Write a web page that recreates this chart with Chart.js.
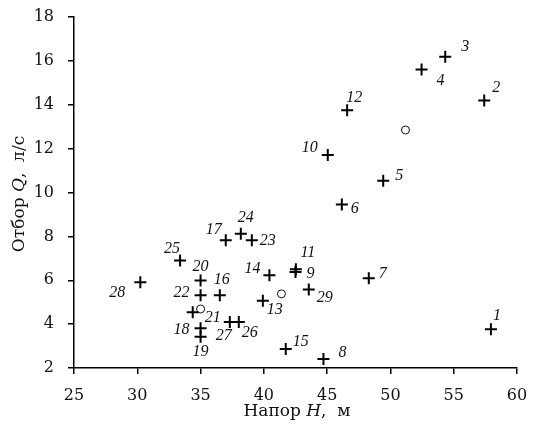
<!DOCTYPE html>
<html>
<head>
<meta charset="utf-8">
<script src="https://cdn.jsdelivr.net/npm/chart.js@4"></script>
<style>
  html, body { margin: 0; padding: 0; background: #fff; }
  #wrap { width: 533px; height: 426px; }
</style>
</head>
<body>
<div id="wrap"><canvas id="chart" width="533" height="426"></canvas></div>
<script>
// Номера скважин, напор H (м) и отбор Q (л/с)
const wellNumbers = ['1','2','3','4','5','6','7','8','9','10','11','12','13','14','15','16','17','18','19','20','21','22','23','24','25','26','27','28','29'];
const headH = [57.94, 57.41, 54.33, 52.46, 49.43, 46.16, 48.29, 44.71, 42.5, 45.05, 42.53, 46.58, 39.92, 40.44, 41.73, 36.52, 36.99, 35.0, 35.0, 35.0, 34.38, 35.0, 39.05, 38.18, 33.38, 38.02, 37.31, 30.24, 43.55];
const flowQ = [3.77, 14.19, 16.19, 15.61, 10.54, 9.45, 6.09, 2.41, 6.38, 11.71, 6.50, 13.75, 5.06, 6.23, 2.87, 5.32, 7.82, 3.81, 3.43, 5.99, 4.54, 5.32, 7.82, 8.12, 6.90, 4.10, 4.10, 5.91, 5.58];

// Кружки (средние значения групп)
const circleH = [51.19, 41.39, 35.0];
const circleQ = [12.85, 5.38, 4.69];

// Подписи осей
const xTicks = [25, 30, 35, 40, 45, 50, 55, 60];
const yTicks = [2, 4, 6, 8, 10, 12, 14, 16, 18];

// смещение подписей номеров относительно точки, px
const labelOffsets = [
    [6, -13], [12, -13], [20, -10], [19, 11], [16, -5], [13, 4], [14, -4], [19, -6], [15, 2], [-18, -7],
    [12, -16], [7, -12], [12, 9], [-17, -6], [15, -7], [2, -15], [-12, -11], [-19, 2], [0, 15], [0, -14],
    [20, 6], [-19, -2], [16, 0], [5, -16], [-8, -12], [11, 11], [-6, 14], [-23, 11], [16, 8]
];

const serif = '"Liberation Serif", "DejaVu Serif", serif';
const wideSerif = '"DejaVu Serif", "Liberation Serif", serif';

const crossData = headH.map((h, i) => ({ x: h, y: flowQ[i] }));
const circleData = circleH.map((h, i) => ({ x: h, y: circleQ[i] }));

const numberLabels = {
    id: 'numberLabels',
    afterDatasetsDraw(chart) {
        const ctx = chart.ctx;
        const meta = chart.getDatasetMeta(0);
        ctx.save();
        ctx.font = 'italic 16px ' + serif;
        ctx.fillStyle = '#111';
        ctx.textAlign = 'center';
        ctx.textBaseline = 'middle';
        meta.data.forEach((pt, i) => {
            const off = labelOffsets[i] || [10, -10];
            ctx.fillText(wellNumbers[i], pt.x + off[0], pt.y + off[1]);
        });
        ctx.restore();
    }
};

// Названия осей с курсивными буквами
const axisTitles = {
    id: 'axisTitles',
    afterDraw(chart) {
        const ctx = chart.ctx;
        const drawParts = (parts) => {
            let total = 0;
            parts.forEach(p => { ctx.font = p[1]; total += ctx.measureText(p[0]).width; });
            let x = -total / 2;
            parts.forEach(p => {
                ctx.font = p[1];
                ctx.fillText(p[0], x, 0);
                x += ctx.measureText(p[0]).width;
            });
        };
        const normal = '17px ' + wideSerif;
        const italic = 'italic 17px ' + wideSerif;
        ctx.save();
        ctx.fillStyle = '#111';
        ctx.textAlign = 'left';
        ctx.textBaseline = 'middle';

        ctx.translate(297, 412);
        drawParts([['Напор ', normal], ['H', italic], [',  м', normal]]);
        ctx.restore();

        ctx.save();
        ctx.fillStyle = '#111';
        ctx.textAlign = 'left';
        ctx.textBaseline = 'middle';
        ctx.translate(20, 194);
        ctx.rotate(-Math.PI / 2);
        drawParts([['Отбор ', normal], ['Q', italic], [',  л/с', normal]]);
        ctx.restore();
    }
};

new Chart(document.getElementById('chart'), {
    type: 'scatter',
    data: {
        datasets: [
            {
                label: 'Скважины',
                data: crossData,
                pointStyle: 'cross',
                pointRadius: 6,
                pointHoverRadius: 6,
                borderColor: '#000',
                backgroundColor: '#000',
                pointBorderWidth: 2
            },
            {
                label: 'Средние',
                data: circleData,
                pointStyle: 'circle',
                pointRadius: 4,
                pointHoverRadius: 4,
                borderColor: '#111',
                backgroundColor: '#fff',
                pointBorderWidth: 1
            }
        ]
    },
    options: {
        responsive: false,
        animation: false,
        layout: { padding: { top: 17, right: 16, left: 0, bottom: 0 } },
        plugins: {
            legend: { display: false },
            tooltip: { enabled: false }
        },
        scales: {
            x: {
                type: 'linear',
                min: 25,
                max: 60,
                afterBuildTicks: s => { s.ticks = xTicks.map(v => ({ value: v })); },
                afterFit: s => { s.height = 58; s.paddingLeft = 0; s.paddingRight = 0; },
                border: { display: true, color: '#000', width: 1.5 },
                grid: { display: true, drawOnChartArea: false, drawTicks: true, tickLength: 6, color: '#000', lineWidth: 1.5 },
                ticks: { color: '#111', font: { family: wideSerif, size: 16 }, padding: 12, maxRotation: 0 }
            },
            y: {
                type: 'linear',
                min: 2,
                max: 18,
                afterBuildTicks: s => { s.ticks = yTicks.map(v => ({ value: v })); },
                afterFit: s => { s.width = 74; s.paddingTop = 0; s.paddingBottom = 0; },
                border: { display: true, color: '#000', width: 1.5 },
                grid: { display: true, drawOnChartArea: false, drawTicks: true, tickLength: 6, color: '#000', lineWidth: 1.5 },
                ticks: { color: '#111', font: { family: wideSerif, size: 16 }, padding: 14 }
            }
        }
    },
    plugins: [numberLabels, axisTitles]
});
</script>
</body>
</html>
